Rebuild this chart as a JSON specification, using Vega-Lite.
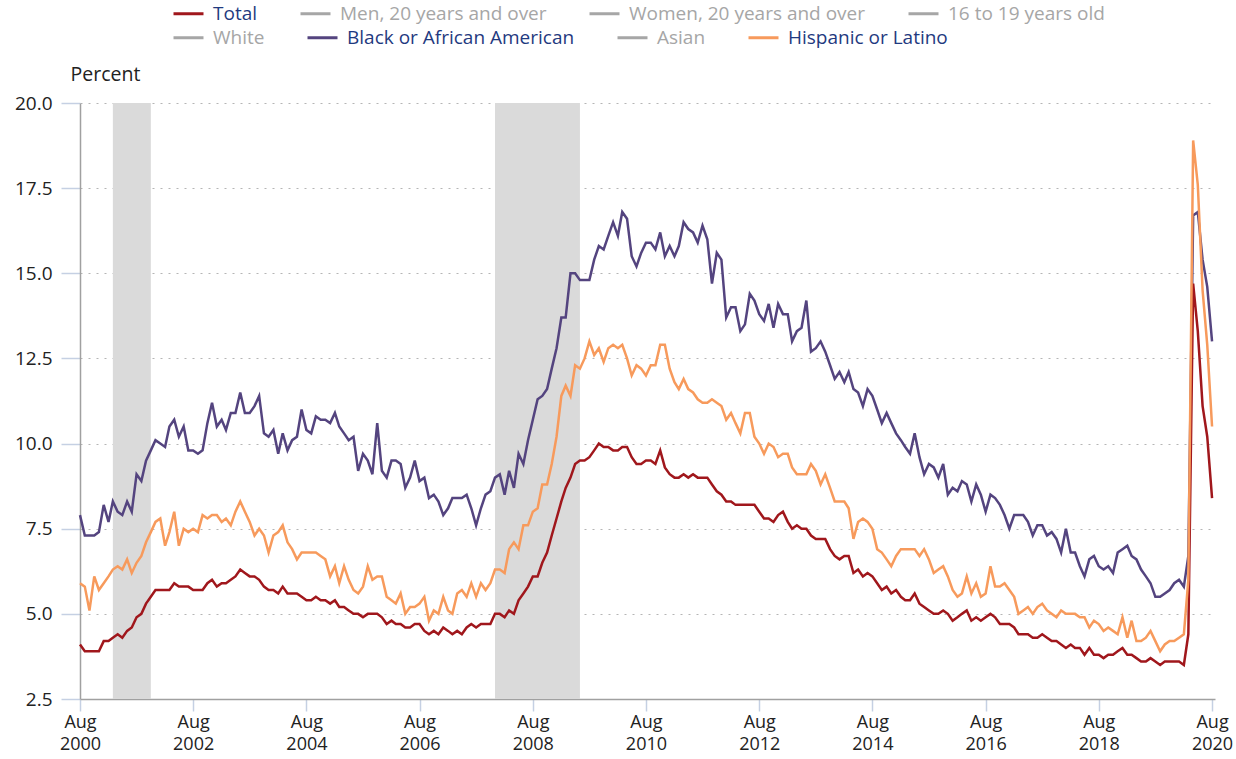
{
"$schema":"https://vega.github.io/schema/vega-lite/v6.json",
"width":1135,"height":596,
"autosize":{"type":"none"},
"padding":{"left":80,"top":103,"right":21,"bottom":60},
"background":"white",
"config":{"view":{"stroke":null},"font":"Open Sans"},
"resolve":{"axis":{"x":"independent"}},
"datasets":{
"recessions":[{"start":"2001-03","end":"2001-11"},{"start":"2007-12","end":"2009-06"}],
"total":[
{"date":"2000-08","rate":4.1},{"date":"2000-09","rate":3.9},{"date":"2000-10","rate":3.9},{"date":"2000-11","rate":3.9},{"date":"2000-12","rate":3.9},
{"date":"2001-01","rate":4.2},{"date":"2001-02","rate":4.2},{"date":"2001-03","rate":4.3},{"date":"2001-04","rate":4.4},{"date":"2001-05","rate":4.3},{"date":"2001-06","rate":4.5},{"date":"2001-07","rate":4.6},{"date":"2001-08","rate":4.9},{"date":"2001-09","rate":5.0},{"date":"2001-10","rate":5.3},{"date":"2001-11","rate":5.5},{"date":"2001-12","rate":5.7},
{"date":"2002-01","rate":5.7},{"date":"2002-02","rate":5.7},{"date":"2002-03","rate":5.7},{"date":"2002-04","rate":5.9},{"date":"2002-05","rate":5.8},{"date":"2002-06","rate":5.8},{"date":"2002-07","rate":5.8},{"date":"2002-08","rate":5.7},{"date":"2002-09","rate":5.7},{"date":"2002-10","rate":5.7},{"date":"2002-11","rate":5.9},{"date":"2002-12","rate":6.0},
{"date":"2003-01","rate":5.8},{"date":"2003-02","rate":5.9},{"date":"2003-03","rate":5.9},{"date":"2003-04","rate":6.0},{"date":"2003-05","rate":6.1},{"date":"2003-06","rate":6.3},{"date":"2003-07","rate":6.2},{"date":"2003-08","rate":6.1},{"date":"2003-09","rate":6.1},{"date":"2003-10","rate":6.0},{"date":"2003-11","rate":5.8},{"date":"2003-12","rate":5.7},
{"date":"2004-01","rate":5.7},{"date":"2004-02","rate":5.6},{"date":"2004-03","rate":5.8},{"date":"2004-04","rate":5.6},{"date":"2004-05","rate":5.6},{"date":"2004-06","rate":5.6},{"date":"2004-07","rate":5.5},{"date":"2004-08","rate":5.4},{"date":"2004-09","rate":5.4},{"date":"2004-10","rate":5.5},{"date":"2004-11","rate":5.4},{"date":"2004-12","rate":5.4},
{"date":"2005-01","rate":5.3},{"date":"2005-02","rate":5.4},{"date":"2005-03","rate":5.2},{"date":"2005-04","rate":5.2},{"date":"2005-05","rate":5.1},{"date":"2005-06","rate":5.0},{"date":"2005-07","rate":5.0},{"date":"2005-08","rate":4.9},{"date":"2005-09","rate":5.0},{"date":"2005-10","rate":5.0},{"date":"2005-11","rate":5.0},{"date":"2005-12","rate":4.9},
{"date":"2006-01","rate":4.7},{"date":"2006-02","rate":4.8},{"date":"2006-03","rate":4.7},{"date":"2006-04","rate":4.7},{"date":"2006-05","rate":4.6},{"date":"2006-06","rate":4.6},{"date":"2006-07","rate":4.7},{"date":"2006-08","rate":4.7},{"date":"2006-09","rate":4.5},{"date":"2006-10","rate":4.4},{"date":"2006-11","rate":4.5},{"date":"2006-12","rate":4.4},
{"date":"2007-01","rate":4.6},{"date":"2007-02","rate":4.5},{"date":"2007-03","rate":4.4},{"date":"2007-04","rate":4.5},{"date":"2007-05","rate":4.4},{"date":"2007-06","rate":4.6},{"date":"2007-07","rate":4.7},{"date":"2007-08","rate":4.6},{"date":"2007-09","rate":4.7},{"date":"2007-10","rate":4.7},{"date":"2007-11","rate":4.7},{"date":"2007-12","rate":5.0},
{"date":"2008-01","rate":5.0},{"date":"2008-02","rate":4.9},{"date":"2008-03","rate":5.1},{"date":"2008-04","rate":5.0},{"date":"2008-05","rate":5.4},{"date":"2008-06","rate":5.6},{"date":"2008-07","rate":5.8},{"date":"2008-08","rate":6.1},{"date":"2008-09","rate":6.1},{"date":"2008-10","rate":6.5},{"date":"2008-11","rate":6.8},{"date":"2008-12","rate":7.3},
{"date":"2009-01","rate":7.8},{"date":"2009-02","rate":8.3},{"date":"2009-03","rate":8.7},{"date":"2009-04","rate":9.0},{"date":"2009-05","rate":9.4},{"date":"2009-06","rate":9.5},{"date":"2009-07","rate":9.5},{"date":"2009-08","rate":9.6},{"date":"2009-09","rate":9.8},{"date":"2009-10","rate":10.0},{"date":"2009-11","rate":9.9},{"date":"2009-12","rate":9.9},
{"date":"2010-01","rate":9.8},{"date":"2010-02","rate":9.8},{"date":"2010-03","rate":9.9},{"date":"2010-04","rate":9.9},{"date":"2010-05","rate":9.6},{"date":"2010-06","rate":9.4},{"date":"2010-07","rate":9.4},{"date":"2010-08","rate":9.5},{"date":"2010-09","rate":9.5},{"date":"2010-10","rate":9.4},{"date":"2010-11","rate":9.8},{"date":"2010-12","rate":9.3},
{"date":"2011-01","rate":9.1},{"date":"2011-02","rate":9.0},{"date":"2011-03","rate":9.0},{"date":"2011-04","rate":9.1},{"date":"2011-05","rate":9.0},{"date":"2011-06","rate":9.1},{"date":"2011-07","rate":9.0},{"date":"2011-08","rate":9.0},{"date":"2011-09","rate":9.0},{"date":"2011-10","rate":8.8},{"date":"2011-11","rate":8.6},{"date":"2011-12","rate":8.5},
{"date":"2012-01","rate":8.3},{"date":"2012-02","rate":8.3},{"date":"2012-03","rate":8.2},{"date":"2012-04","rate":8.2},{"date":"2012-05","rate":8.2},{"date":"2012-06","rate":8.2},{"date":"2012-07","rate":8.2},{"date":"2012-08","rate":8.0},{"date":"2012-09","rate":7.8},{"date":"2012-10","rate":7.8},{"date":"2012-11","rate":7.7},{"date":"2012-12","rate":7.9},
{"date":"2013-01","rate":8.0},{"date":"2013-02","rate":7.7},{"date":"2013-03","rate":7.5},{"date":"2013-04","rate":7.6},{"date":"2013-05","rate":7.5},{"date":"2013-06","rate":7.5},{"date":"2013-07","rate":7.3},{"date":"2013-08","rate":7.2},{"date":"2013-09","rate":7.2},{"date":"2013-10","rate":7.2},{"date":"2013-11","rate":6.9},{"date":"2013-12","rate":6.7},
{"date":"2014-01","rate":6.6},{"date":"2014-02","rate":6.7},{"date":"2014-03","rate":6.7},{"date":"2014-04","rate":6.2},{"date":"2014-05","rate":6.3},{"date":"2014-06","rate":6.1},{"date":"2014-07","rate":6.2},{"date":"2014-08","rate":6.1},{"date":"2014-09","rate":5.9},{"date":"2014-10","rate":5.7},{"date":"2014-11","rate":5.8},{"date":"2014-12","rate":5.6},
{"date":"2015-01","rate":5.7},{"date":"2015-02","rate":5.5},{"date":"2015-03","rate":5.4},{"date":"2015-04","rate":5.4},{"date":"2015-05","rate":5.6},{"date":"2015-06","rate":5.3},{"date":"2015-07","rate":5.2},{"date":"2015-08","rate":5.1},{"date":"2015-09","rate":5.0},{"date":"2015-10","rate":5.0},{"date":"2015-11","rate":5.1},{"date":"2015-12","rate":5.0},
{"date":"2016-01","rate":4.8},{"date":"2016-02","rate":4.9},{"date":"2016-03","rate":5.0},{"date":"2016-04","rate":5.1},{"date":"2016-05","rate":4.8},{"date":"2016-06","rate":4.9},{"date":"2016-07","rate":4.8},{"date":"2016-08","rate":4.9},{"date":"2016-09","rate":5.0},{"date":"2016-10","rate":4.9},{"date":"2016-11","rate":4.7},{"date":"2016-12","rate":4.7},
{"date":"2017-01","rate":4.7},{"date":"2017-02","rate":4.6},{"date":"2017-03","rate":4.4},{"date":"2017-04","rate":4.4},{"date":"2017-05","rate":4.4},{"date":"2017-06","rate":4.3},{"date":"2017-07","rate":4.3},{"date":"2017-08","rate":4.4},{"date":"2017-09","rate":4.3},{"date":"2017-10","rate":4.2},{"date":"2017-11","rate":4.2},{"date":"2017-12","rate":4.1},
{"date":"2018-01","rate":4.0},{"date":"2018-02","rate":4.1},{"date":"2018-03","rate":4.0},{"date":"2018-04","rate":4.0},{"date":"2018-05","rate":3.8},{"date":"2018-06","rate":4.0},{"date":"2018-07","rate":3.8},{"date":"2018-08","rate":3.8},{"date":"2018-09","rate":3.7},{"date":"2018-10","rate":3.8},{"date":"2018-11","rate":3.8},{"date":"2018-12","rate":3.9},
{"date":"2019-01","rate":4.0},{"date":"2019-02","rate":3.8},{"date":"2019-03","rate":3.8},{"date":"2019-04","rate":3.7},{"date":"2019-05","rate":3.6},{"date":"2019-06","rate":3.6},{"date":"2019-07","rate":3.7},{"date":"2019-08","rate":3.6},{"date":"2019-09","rate":3.5},{"date":"2019-10","rate":3.6},{"date":"2019-11","rate":3.6},{"date":"2019-12","rate":3.6},
{"date":"2020-01","rate":3.6},{"date":"2020-02","rate":3.5},{"date":"2020-03","rate":4.4},{"date":"2020-04","rate":14.7},{"date":"2020-05","rate":13.3},{"date":"2020-06","rate":11.1},{"date":"2020-07","rate":10.2},{"date":"2020-08","rate":8.4}
],
"black":[
{"date":"2000-08","rate":7.9},{"date":"2000-09","rate":7.3},{"date":"2000-10","rate":7.3},{"date":"2000-11","rate":7.3},{"date":"2000-12","rate":7.4},
{"date":"2001-01","rate":8.2},{"date":"2001-02","rate":7.7},{"date":"2001-03","rate":8.3},{"date":"2001-04","rate":8.0},{"date":"2001-05","rate":7.9},{"date":"2001-06","rate":8.3},{"date":"2001-07","rate":8.0},{"date":"2001-08","rate":9.1},{"date":"2001-09","rate":8.9},{"date":"2001-10","rate":9.5},{"date":"2001-11","rate":9.8},{"date":"2001-12","rate":10.1},
{"date":"2002-01","rate":10.0},{"date":"2002-02","rate":9.9},{"date":"2002-03","rate":10.5},{"date":"2002-04","rate":10.7},{"date":"2002-05","rate":10.2},{"date":"2002-06","rate":10.5},{"date":"2002-07","rate":9.8},{"date":"2002-08","rate":9.8},{"date":"2002-09","rate":9.7},{"date":"2002-10","rate":9.8},{"date":"2002-11","rate":10.6},{"date":"2002-12","rate":11.2},
{"date":"2003-01","rate":10.5},{"date":"2003-02","rate":10.7},{"date":"2003-03","rate":10.4},{"date":"2003-04","rate":10.9},{"date":"2003-05","rate":10.9},{"date":"2003-06","rate":11.5},{"date":"2003-07","rate":10.9},{"date":"2003-08","rate":10.9},{"date":"2003-09","rate":11.1},{"date":"2003-10","rate":11.4},{"date":"2003-11","rate":10.3},{"date":"2003-12","rate":10.2},
{"date":"2004-01","rate":10.4},{"date":"2004-02","rate":9.7},{"date":"2004-03","rate":10.3},{"date":"2004-04","rate":9.8},{"date":"2004-05","rate":10.1},{"date":"2004-06","rate":10.2},{"date":"2004-07","rate":11.0},{"date":"2004-08","rate":10.4},{"date":"2004-09","rate":10.3},{"date":"2004-10","rate":10.8},{"date":"2004-11","rate":10.7},{"date":"2004-12","rate":10.7},
{"date":"2005-01","rate":10.6},{"date":"2005-02","rate":10.9},{"date":"2005-03","rate":10.5},{"date":"2005-04","rate":10.3},{"date":"2005-05","rate":10.1},{"date":"2005-06","rate":10.2},{"date":"2005-07","rate":9.2},{"date":"2005-08","rate":9.7},{"date":"2005-09","rate":9.5},{"date":"2005-10","rate":9.1},{"date":"2005-11","rate":10.6},{"date":"2005-12","rate":9.2},
{"date":"2006-01","rate":9.0},{"date":"2006-02","rate":9.5},{"date":"2006-03","rate":9.5},{"date":"2006-04","rate":9.4},{"date":"2006-05","rate":8.7},{"date":"2006-06","rate":9.0},{"date":"2006-07","rate":9.5},{"date":"2006-08","rate":8.9},{"date":"2006-09","rate":9.0},{"date":"2006-10","rate":8.4},{"date":"2006-11","rate":8.5},{"date":"2006-12","rate":8.3},
{"date":"2007-01","rate":7.9},{"date":"2007-02","rate":8.1},{"date":"2007-03","rate":8.4},{"date":"2007-04","rate":8.4},{"date":"2007-05","rate":8.4},{"date":"2007-06","rate":8.5},{"date":"2007-07","rate":8.1},{"date":"2007-08","rate":7.6},{"date":"2007-09","rate":8.1},{"date":"2007-10","rate":8.5},{"date":"2007-11","rate":8.6},{"date":"2007-12","rate":9.0},
{"date":"2008-01","rate":9.1},{"date":"2008-02","rate":8.5},{"date":"2008-03","rate":9.2},{"date":"2008-04","rate":8.7},{"date":"2008-05","rate":9.7},{"date":"2008-06","rate":9.4},{"date":"2008-07","rate":10.1},{"date":"2008-08","rate":10.7},{"date":"2008-09","rate":11.3},{"date":"2008-10","rate":11.4},{"date":"2008-11","rate":11.6},{"date":"2008-12","rate":12.2},
{"date":"2009-01","rate":12.8},{"date":"2009-02","rate":13.7},{"date":"2009-03","rate":13.7},{"date":"2009-04","rate":15.0},{"date":"2009-05","rate":15.0},{"date":"2009-06","rate":14.8},{"date":"2009-07","rate":14.8},{"date":"2009-08","rate":14.8},{"date":"2009-09","rate":15.4},{"date":"2009-10","rate":15.8},{"date":"2009-11","rate":15.7},{"date":"2009-12","rate":16.1},
{"date":"2010-01","rate":16.5},{"date":"2010-02","rate":16.1},{"date":"2010-03","rate":16.8},{"date":"2010-04","rate":16.6},{"date":"2010-05","rate":15.5},{"date":"2010-06","rate":15.2},{"date":"2010-07","rate":15.6},{"date":"2010-08","rate":15.9},{"date":"2010-09","rate":15.9},{"date":"2010-10","rate":15.7},{"date":"2010-11","rate":16.2},{"date":"2010-12","rate":15.5},
{"date":"2011-01","rate":15.8},{"date":"2011-02","rate":15.5},{"date":"2011-03","rate":15.8},{"date":"2011-04","rate":16.5},{"date":"2011-05","rate":16.3},{"date":"2011-06","rate":16.2},{"date":"2011-07","rate":15.9},{"date":"2011-08","rate":16.4},{"date":"2011-09","rate":16.0},{"date":"2011-10","rate":14.7},{"date":"2011-11","rate":15.6},{"date":"2011-12","rate":15.4},
{"date":"2012-01","rate":13.7},{"date":"2012-02","rate":14.0},{"date":"2012-03","rate":14.0},{"date":"2012-04","rate":13.3},{"date":"2012-05","rate":13.5},{"date":"2012-06","rate":14.4},{"date":"2012-07","rate":14.2},{"date":"2012-08","rate":13.8},{"date":"2012-09","rate":13.6},{"date":"2012-10","rate":14.1},{"date":"2012-11","rate":13.4},{"date":"2012-12","rate":14.1},
{"date":"2013-01","rate":13.8},{"date":"2013-02","rate":13.8},{"date":"2013-03","rate":13.0},{"date":"2013-04","rate":13.3},{"date":"2013-05","rate":13.4},{"date":"2013-06","rate":14.2},{"date":"2013-07","rate":12.7},{"date":"2013-08","rate":12.8},{"date":"2013-09","rate":13.0},{"date":"2013-10","rate":12.7},{"date":"2013-11","rate":12.3},{"date":"2013-12","rate":11.9},
{"date":"2014-01","rate":12.1},{"date":"2014-02","rate":11.8},{"date":"2014-03","rate":12.1},{"date":"2014-04","rate":11.6},{"date":"2014-05","rate":11.5},{"date":"2014-06","rate":11.1},{"date":"2014-07","rate":11.6},{"date":"2014-08","rate":11.4},{"date":"2014-09","rate":11.0},{"date":"2014-10","rate":10.6},{"date":"2014-11","rate":10.9},{"date":"2014-12","rate":10.6},
{"date":"2015-01","rate":10.3},{"date":"2015-02","rate":10.1},{"date":"2015-03","rate":9.9},{"date":"2015-04","rate":9.7},{"date":"2015-05","rate":10.3},{"date":"2015-06","rate":9.6},{"date":"2015-07","rate":9.1},{"date":"2015-08","rate":9.4},{"date":"2015-09","rate":9.3},{"date":"2015-10","rate":9.0},{"date":"2015-11","rate":9.4},{"date":"2015-12","rate":8.5},
{"date":"2016-01","rate":8.7},{"date":"2016-02","rate":8.6},{"date":"2016-03","rate":8.9},{"date":"2016-04","rate":8.8},{"date":"2016-05","rate":8.3},{"date":"2016-06","rate":8.8},{"date":"2016-07","rate":8.5},{"date":"2016-08","rate":8.0},{"date":"2016-09","rate":8.5},{"date":"2016-10","rate":8.4},{"date":"2016-11","rate":8.2},{"date":"2016-12","rate":7.9},
{"date":"2017-01","rate":7.5},{"date":"2017-02","rate":7.9},{"date":"2017-03","rate":7.9},{"date":"2017-04","rate":7.9},{"date":"2017-05","rate":7.7},{"date":"2017-06","rate":7.3},{"date":"2017-07","rate":7.6},{"date":"2017-08","rate":7.6},{"date":"2017-09","rate":7.3},{"date":"2017-10","rate":7.4},{"date":"2017-11","rate":7.2},{"date":"2017-12","rate":6.8},
{"date":"2018-01","rate":7.5},{"date":"2018-02","rate":6.8},{"date":"2018-03","rate":6.8},{"date":"2018-04","rate":6.4},{"date":"2018-05","rate":6.1},{"date":"2018-06","rate":6.6},{"date":"2018-07","rate":6.7},{"date":"2018-08","rate":6.4},{"date":"2018-09","rate":6.3},{"date":"2018-10","rate":6.4},{"date":"2018-11","rate":6.2},{"date":"2018-12","rate":6.8},
{"date":"2019-01","rate":6.9},{"date":"2019-02","rate":7.0},{"date":"2019-03","rate":6.7},{"date":"2019-04","rate":6.6},{"date":"2019-05","rate":6.3},{"date":"2019-06","rate":6.1},{"date":"2019-07","rate":5.9},{"date":"2019-08","rate":5.5},{"date":"2019-09","rate":5.5},{"date":"2019-10","rate":5.6},{"date":"2019-11","rate":5.7},{"date":"2019-12","rate":5.9},
{"date":"2020-01","rate":6.0},{"date":"2020-02","rate":5.8},{"date":"2020-03","rate":6.7},{"date":"2020-04","rate":16.7},{"date":"2020-05","rate":16.8},{"date":"2020-06","rate":15.4},{"date":"2020-07","rate":14.6},{"date":"2020-08","rate":13.0}
],
"hispanic":[
{"date":"2000-08","rate":5.9},{"date":"2000-09","rate":5.8},{"date":"2000-10","rate":5.1},{"date":"2000-11","rate":6.1},{"date":"2000-12","rate":5.7},
{"date":"2001-01","rate":5.9},{"date":"2001-02","rate":6.1},{"date":"2001-03","rate":6.3},{"date":"2001-04","rate":6.4},{"date":"2001-05","rate":6.3},{"date":"2001-06","rate":6.6},{"date":"2001-07","rate":6.2},{"date":"2001-08","rate":6.5},{"date":"2001-09","rate":6.7},{"date":"2001-10","rate":7.1},{"date":"2001-11","rate":7.4},{"date":"2001-12","rate":7.7},
{"date":"2002-01","rate":7.8},{"date":"2002-02","rate":7.0},{"date":"2002-03","rate":7.4},{"date":"2002-04","rate":8.0},{"date":"2002-05","rate":7.0},{"date":"2002-06","rate":7.5},{"date":"2002-07","rate":7.4},{"date":"2002-08","rate":7.5},{"date":"2002-09","rate":7.4},{"date":"2002-10","rate":7.9},{"date":"2002-11","rate":7.8},{"date":"2002-12","rate":7.9},
{"date":"2003-01","rate":7.9},{"date":"2003-02","rate":7.7},{"date":"2003-03","rate":7.8},{"date":"2003-04","rate":7.6},{"date":"2003-05","rate":8.0},{"date":"2003-06","rate":8.3},{"date":"2003-07","rate":8.0},{"date":"2003-08","rate":7.7},{"date":"2003-09","rate":7.3},{"date":"2003-10","rate":7.5},{"date":"2003-11","rate":7.3},{"date":"2003-12","rate":6.8},
{"date":"2004-01","rate":7.3},{"date":"2004-02","rate":7.4},{"date":"2004-03","rate":7.6},{"date":"2004-04","rate":7.1},{"date":"2004-05","rate":6.9},{"date":"2004-06","rate":6.6},{"date":"2004-07","rate":6.8},{"date":"2004-08","rate":6.8},{"date":"2004-09","rate":6.8},{"date":"2004-10","rate":6.8},{"date":"2004-11","rate":6.7},{"date":"2004-12","rate":6.6},
{"date":"2005-01","rate":6.1},{"date":"2005-02","rate":6.4},{"date":"2005-03","rate":5.9},{"date":"2005-04","rate":6.4},{"date":"2005-05","rate":6.0},{"date":"2005-06","rate":5.7},{"date":"2005-07","rate":5.6},{"date":"2005-08","rate":5.8},{"date":"2005-09","rate":6.4},{"date":"2005-10","rate":6.0},{"date":"2005-11","rate":6.1},{"date":"2005-12","rate":6.1},
{"date":"2006-01","rate":5.5},{"date":"2006-02","rate":5.4},{"date":"2006-03","rate":5.3},{"date":"2006-04","rate":5.6},{"date":"2006-05","rate":5.0},{"date":"2006-06","rate":5.2},{"date":"2006-07","rate":5.2},{"date":"2006-08","rate":5.3},{"date":"2006-09","rate":5.5},{"date":"2006-10","rate":4.8},{"date":"2006-11","rate":5.1},{"date":"2006-12","rate":5.0},
{"date":"2007-01","rate":5.5},{"date":"2007-02","rate":5.1},{"date":"2007-03","rate":5.0},{"date":"2007-04","rate":5.6},{"date":"2007-05","rate":5.7},{"date":"2007-06","rate":5.5},{"date":"2007-07","rate":5.9},{"date":"2007-08","rate":5.5},{"date":"2007-09","rate":5.9},{"date":"2007-10","rate":5.7},{"date":"2007-11","rate":5.9},{"date":"2007-12","rate":6.3},
{"date":"2008-01","rate":6.3},{"date":"2008-02","rate":6.2},{"date":"2008-03","rate":6.9},{"date":"2008-04","rate":7.1},{"date":"2008-05","rate":6.9},{"date":"2008-06","rate":7.6},{"date":"2008-07","rate":7.6},{"date":"2008-08","rate":8.0},{"date":"2008-09","rate":8.1},{"date":"2008-10","rate":8.8},{"date":"2008-11","rate":8.8},{"date":"2008-12","rate":9.4},
{"date":"2009-01","rate":10.2},{"date":"2009-02","rate":11.4},{"date":"2009-03","rate":11.7},{"date":"2009-04","rate":11.4},{"date":"2009-05","rate":12.3},{"date":"2009-06","rate":12.2},{"date":"2009-07","rate":12.5},{"date":"2009-08","rate":13.0},{"date":"2009-09","rate":12.6},{"date":"2009-10","rate":12.8},{"date":"2009-11","rate":12.4},{"date":"2009-12","rate":12.8},
{"date":"2010-01","rate":12.9},{"date":"2010-02","rate":12.8},{"date":"2010-03","rate":12.9},{"date":"2010-04","rate":12.5},{"date":"2010-05","rate":12.0},{"date":"2010-06","rate":12.3},{"date":"2010-07","rate":12.2},{"date":"2010-08","rate":12.0},{"date":"2010-09","rate":12.3},{"date":"2010-10","rate":12.3},{"date":"2010-11","rate":12.9},{"date":"2010-12","rate":12.9},
{"date":"2011-01","rate":12.2},{"date":"2011-02","rate":11.8},{"date":"2011-03","rate":11.6},{"date":"2011-04","rate":11.9},{"date":"2011-05","rate":11.6},{"date":"2011-06","rate":11.5},{"date":"2011-07","rate":11.3},{"date":"2011-08","rate":11.2},{"date":"2011-09","rate":11.2},{"date":"2011-10","rate":11.3},{"date":"2011-11","rate":11.2},{"date":"2011-12","rate":11.1},
{"date":"2012-01","rate":10.7},{"date":"2012-02","rate":10.9},{"date":"2012-03","rate":10.6},{"date":"2012-04","rate":10.3},{"date":"2012-05","rate":10.9},{"date":"2012-06","rate":10.9},{"date":"2012-07","rate":10.2},{"date":"2012-08","rate":10.0},{"date":"2012-09","rate":9.7},{"date":"2012-10","rate":10.0},{"date":"2012-11","rate":9.9},{"date":"2012-12","rate":9.6},
{"date":"2013-01","rate":9.7},{"date":"2013-02","rate":9.7},{"date":"2013-03","rate":9.3},{"date":"2013-04","rate":9.1},{"date":"2013-05","rate":9.1},{"date":"2013-06","rate":9.1},{"date":"2013-07","rate":9.4},{"date":"2013-08","rate":9.2},{"date":"2013-09","rate":8.8},{"date":"2013-10","rate":9.1},{"date":"2013-11","rate":8.7},{"date":"2013-12","rate":8.3},
{"date":"2014-01","rate":8.3},{"date":"2014-02","rate":8.3},{"date":"2014-03","rate":8.1},{"date":"2014-04","rate":7.2},{"date":"2014-05","rate":7.7},{"date":"2014-06","rate":7.8},{"date":"2014-07","rate":7.7},{"date":"2014-08","rate":7.5},{"date":"2014-09","rate":6.9},{"date":"2014-10","rate":6.8},{"date":"2014-11","rate":6.6},{"date":"2014-12","rate":6.4},
{"date":"2015-01","rate":6.7},{"date":"2015-02","rate":6.9},{"date":"2015-03","rate":6.9},{"date":"2015-04","rate":6.9},{"date":"2015-05","rate":6.9},{"date":"2015-06","rate":6.7},{"date":"2015-07","rate":6.9},{"date":"2015-08","rate":6.6},{"date":"2015-09","rate":6.2},{"date":"2015-10","rate":6.3},{"date":"2015-11","rate":6.4},{"date":"2015-12","rate":6.1},
{"date":"2016-01","rate":5.7},{"date":"2016-02","rate":5.5},{"date":"2016-03","rate":5.6},{"date":"2016-04","rate":6.1},{"date":"2016-05","rate":5.6},{"date":"2016-06","rate":5.9},{"date":"2016-07","rate":5.5},{"date":"2016-08","rate":5.6},{"date":"2016-09","rate":6.4},{"date":"2016-10","rate":5.8},{"date":"2016-11","rate":5.8},{"date":"2016-12","rate":5.9},
{"date":"2017-01","rate":5.7},{"date":"2017-02","rate":5.5},{"date":"2017-03","rate":5.0},{"date":"2017-04","rate":5.1},{"date":"2017-05","rate":5.2},{"date":"2017-06","rate":5.0},{"date":"2017-07","rate":5.2},{"date":"2017-08","rate":5.3},{"date":"2017-09","rate":5.1},{"date":"2017-10","rate":5.0},{"date":"2017-11","rate":4.9},{"date":"2017-12","rate":5.1},
{"date":"2018-01","rate":5.0},{"date":"2018-02","rate":5.0},{"date":"2018-03","rate":5.0},{"date":"2018-04","rate":4.9},{"date":"2018-05","rate":4.9},{"date":"2018-06","rate":4.6},{"date":"2018-07","rate":4.8},{"date":"2018-08","rate":4.7},{"date":"2018-09","rate":4.5},{"date":"2018-10","rate":4.6},{"date":"2018-11","rate":4.5},{"date":"2018-12","rate":4.4},
{"date":"2019-01","rate":4.9},{"date":"2019-02","rate":4.3},{"date":"2019-03","rate":4.8},{"date":"2019-04","rate":4.2},{"date":"2019-05","rate":4.2},{"date":"2019-06","rate":4.3},{"date":"2019-07","rate":4.5},{"date":"2019-08","rate":4.2},{"date":"2019-09","rate":3.9},{"date":"2019-10","rate":4.1},{"date":"2019-11","rate":4.2},{"date":"2019-12","rate":4.2},
{"date":"2020-01","rate":4.3},{"date":"2020-02","rate":4.4},{"date":"2020-03","rate":6.0},{"date":"2020-04","rate":18.9},{"date":"2020-05","rate":17.6},{"date":"2020-06","rate":14.5},{"date":"2020-07","rate":12.9},{"date":"2020-08","rate":10.5}
]
},
"layer":[
{"data":{"name":"recessions"},
 "mark":{"type":"rect","color":"#dadada"},
 "encoding":{
  "x":{"field":"start","type":"temporal",
   "scale":{"type":"utc","domain":[{"year":2000,"month":8,"date":1,"utc":true},{"year":2020,"month":8,"date":20,"utc":true}]},
   "axis":{"orient":"bottom","title":null,"grid":false,
    "values":[{"year":2000,"month":8,"date":1,"utc":true},{"year":2002,"month":8,"date":1,"utc":true},{"year":2004,"month":8,"date":1,"utc":true},{"year":2006,"month":8,"date":1,"utc":true},{"year":2008,"month":8,"date":1,"utc":true},{"year":2010,"month":8,"date":1,"utc":true},{"year":2012,"month":8,"date":1,"utc":true},{"year":2014,"month":8,"date":1,"utc":true},{"year":2016,"month":8,"date":1,"utc":true},{"year":2018,"month":8,"date":1,"utc":true},{"year":2020,"month":8,"date":1,"utc":true}],
    "labelExpr":"utcFormat(datum.value,'%b')",
    "labelFont":"Open Sans","labelFontSize":18,"labelColor":"#222222","labelPadding":2,"labelFlush":false,"labelOverlap":false,
    "tickSize":12,"tickColor":"#c5d0e3","tickWidth":1.5,
    "domainColor":"#a0a0a0","domainWidth":1.5}},
  "x2":{"field":"end"}}},
{"data":{"name":"black"},
 "mark":{"type":"line","strokeWidth":2.5},
 "encoding":{
  "x":{"field":"date","type":"temporal",
   "axis":{"orient":"bottom","title":null,"grid":false,"domain":false,"ticks":false,"tickSize":0,
    "values":[{"year":2000,"month":8,"date":1,"utc":true},{"year":2002,"month":8,"date":1,"utc":true},{"year":2004,"month":8,"date":1,"utc":true},{"year":2006,"month":8,"date":1,"utc":true},{"year":2008,"month":8,"date":1,"utc":true},{"year":2010,"month":8,"date":1,"utc":true},{"year":2012,"month":8,"date":1,"utc":true},{"year":2014,"month":8,"date":1,"utc":true},{"year":2016,"month":8,"date":1,"utc":true},{"year":2018,"month":8,"date":1,"utc":true},{"year":2020,"month":8,"date":1,"utc":true}],
    "labelExpr":"utcFormat(datum.value,'%Y')",
    "labelFont":"Open Sans","labelFontSize":18,"labelColor":"#222222","labelPadding":36,"labelFlush":false,"labelOverlap":false}},
  "y":{"field":"rate","type":"quantitative",
   "scale":{"domain":[2.5,20],"nice":false,"zero":false},
   "axis":{"values":[2.5,5,7.5,10,12.5,15,17.5,20],"format":".1f",
    "title":"Percent","titleAngle":0,"titleAlign":"left","titleBaseline":"alphabetic","titleX":-10,"titleY":-23,
    "titleFont":"Open Sans","titleFontSize":19.5,"titleFontWeight":"normal","titleColor":"#222222",
    "labelFont":"Open Sans","labelFontSize":19,"labelColor":"#222222","labelPadding":9,
    "tickSize":19,"tickColor":"#c5d0e3","tickWidth":1.5,
    "domainColor":"#a0a0a0","domainWidth":1.5,
    "grid":true,"gridColor":"#b5b5b5","gridDash":[2,6],"gridWidth":1.2}},
  "stroke":{"datum":"Black or African American","type":"nominal",
   "scale":{"domain":["White","Black or African American","Asian","Hispanic or Latino"],
    "range":["#a6a6a6","#54447f","#a6a6a6","#f79a5c"]},
   "legend":{"orient":"none","legendX":97,"legendY":-77,"direction":"horizontal","columnPadding":36,"title":null,
    "symbolType":"M-1.5,0H1.5","symbolSize":400,"symbolStrokeWidth":3,
    "labelFont":"Open Sans","labelFontSize":19,"labelOffset":13,"labelLimit":400,
    "encode":{"labels":{"update":{"fill":{"signal":"indexof(['Black or African American','Hispanic or Latino'], datum.value) >= 0 ? '#1f3a80' : '#a6a6a6'"}}}}}}}},
{"data":{"name":"total"},
 "mark":{"type":"line","strokeWidth":2.5},
 "encoding":{
  "x":{"field":"date","type":"temporal","axis":null},
  "y":{"field":"rate","type":"quantitative"},
  "color":{"datum":"Total","type":"nominal",
   "scale":{"domain":["Total","Men, 20 years and over","Women, 20 years and over","16 to 19 years old"],
    "range":["#a0171c","#a6a6a6","#a6a6a6","#a6a6a6"]},
   "legend":{"orient":"none","legendX":97,"legendY":-101,"direction":"horizontal","columnPadding":36,"title":null,
    "symbolType":"M-1.5,0H1.5","symbolSize":400,"symbolStrokeWidth":3,
    "labelFont":"Open Sans","labelFontSize":19,"labelOffset":13,"labelLimit":400,
    "encode":{"labels":{"update":{"fill":{"signal":"datum.value === 'Total' ? '#1f3a80' : '#a6a6a6'"}}}}}}}},
{"data":{"name":"hispanic"},
 "mark":{"type":"line","strokeWidth":2.5},
 "encoding":{
  "x":{"field":"date","type":"temporal","axis":null},
  "y":{"field":"rate","type":"quantitative"},
  "stroke":{"datum":"Hispanic or Latino","type":"nominal"}}}
]
}
